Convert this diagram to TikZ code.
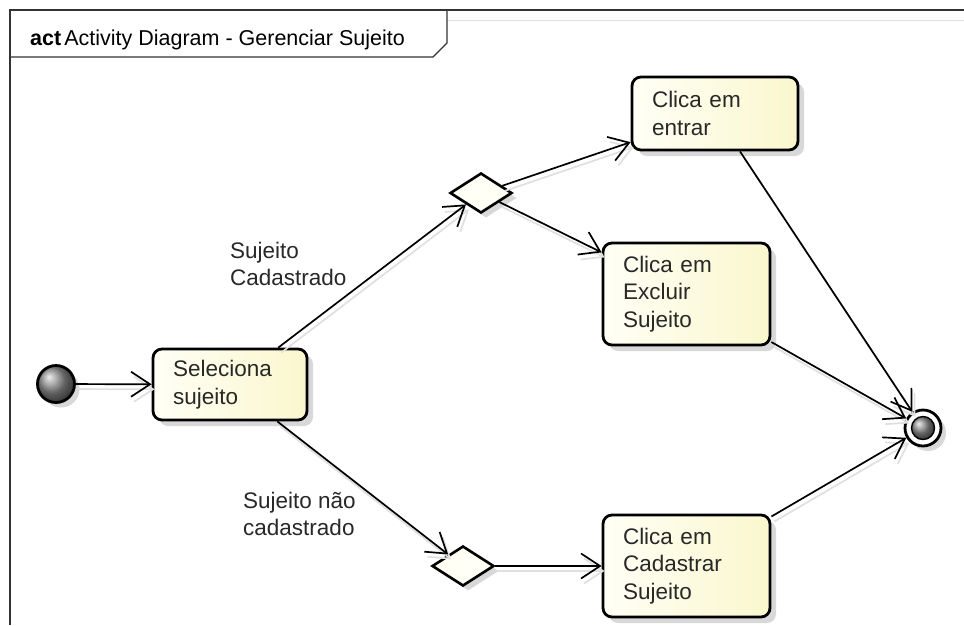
\documentclass[tikz,border=0pt]{standalone}
\usepackage{fontspec}
\setmainfont{Liberation Sans}
\usetikzlibrary{arrows.meta,shapes.geometric,shadows}
\definecolor{boxfill}{RGB}{250,247,205}
\definecolor{boxlight}{RGB}{255,255,246}
\definecolor{txt}{RGB}{40,40,40}
\begin{document}
\begin{tikzpicture}[x=1pt,y=-1pt,
  actbox/.style={draw=black, line width=2.8pt, rounded corners=9pt,
    left color=boxlight, right color=boxfill, align=left, text=txt,
    font=\fontsize{22.5}{27.5}\selectfont, inner sep=0pt,
    drop shadow={shadow xshift=6pt, shadow yshift=-6pt, fill=black!25, opacity=0.6}},
  decision/.style={diamond, draw=black, line width=2.6pt, fill=boxlight,
    minimum width=62pt, minimum height=40pt, inner sep=0pt,
    drop shadow={shadow xshift=5pt, shadow yshift=-5pt, fill=black!25, opacity=0.6}},
  flow/.style={draw=black, line width=1.7pt, -{Straight Barb[length=19pt,width=25pt]}},
  flowshadow/.style={draw=black!12, line width=1.7pt, -{Straight Barb[length=19pt,width=25pt]}},
  lbl/.style={anchor=north west, align=left, inner sep=0pt, text=txt,
    font=\fontsize{22.5}{27.5}\selectfont},
  frameline/.style={draw=black!80, line width=1.3pt}
]
\useasboundingbox (0,0) rectangle (964,625);
\fill[white] (0,0) rectangle (964,625);

% frame
\draw[black!12, line width=1pt] (447,20) -- (964,20);
\draw[frameline] (10,625) -- (10,10) -- (964,10);
\draw[frameline] (10,57) -- (433,57) -- (447,43) -- (447,10);
\node[anchor=base west, inner sep=0pt, text=black, font=\fontsize{21.5}{26}\selectfont]
  (title) at (30,45) {\textbf{act}\hspace{3pt}Activity Diagram - Gerenciar Sujeito};

% nodes
\node[circle, minimum size=37pt, inner sep=0pt, draw=black, line width=2.8pt,
  ball color=black!45, drop shadow={shadow xshift=5pt, shadow yshift=-5pt, fill=black!25, opacity=0.6}] (init) at (56,384) {};
\node[actbox, minimum width=154pt, minimum height=71pt, text width=114pt] (sel) at (230,384.5) {Seleciona\\sujeito};
\node[decision] (d1) at (481,193) {};
\node[decision] (d2) at (463,566) {};
\node[actbox, minimum width=166pt, minimum height=73pt, text width=126pt] (ent) at (715,113.5) {Clica em\\entrar};
\node[actbox, minimum width=167pt, minimum height=102pt, text width=127pt] (exc) at (686.5,294) {Clica em\\Excluir\\Sujeito};
\node[actbox, minimum width=167pt, minimum height=102pt, text width=127pt] (cad) at (686.5,566) {Clica em\\Cadastrar\\Sujeito};
\node[circle, minimum size=36pt, inner sep=0pt, draw=black, line width=2.8pt, fill=white,
  drop shadow={shadow xshift=5pt, shadow yshift=-5pt, fill=black!25, opacity=0.6}] (fin) at (923,428) {};
\node[circle, minimum size=23pt, inner sep=0pt, draw=black, line width=1.4pt, ball color=black!45] (finin) at (fin.center) {};

% edge shadows
\begin{scope}[transform canvas={shift={(3pt,-5pt)}}]
\draw[flowshadow] (init) -- (sel);
\draw[flowshadow] (sel) -- (d1);
\draw[flowshadow] (sel) -- (d2);
\draw[flowshadow] (d1) -- (ent);
\draw[flowshadow] (d1) -- (exc);
\draw[flowshadow] (d2) -- (cad);
\draw[flowshadow] (ent) -- (fin);
\draw[flowshadow] (exc) -- (fin);
\draw[flowshadow] (cad) -- (fin);
\end{scope}

% edges
\draw[flow] (init) -- (sel);
\draw[flow] (sel) -- (d1);
\draw[flow] (sel) -- (d2);
\draw[flow] (d1) -- (ent);
\draw[flow] (d1) -- (exc);
\draw[flow] (d2) -- (cad);
\draw[flow] (ent) -- (fin);
\draw[flow] (exc) -- (fin);
\draw[flow] (cad) -- (fin);

% guard labels
\node[lbl] (g1) at (230,241.5) {Sujeito\\Cadastrado};
\node[lbl] (g2) at (243,491.5) {Sujeito não\\cadastrado};
\end{tikzpicture}
\end{document}
